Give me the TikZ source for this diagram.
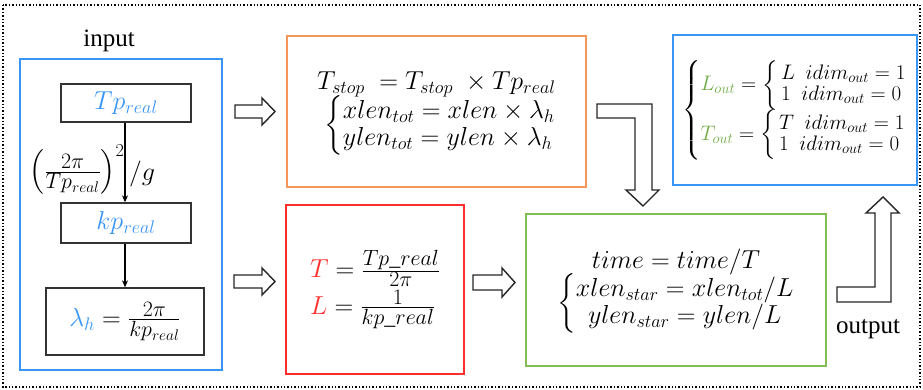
\RequirePackage{fix-cm}
\documentclass[tikz,border=0pt]{standalone}
\usepackage{amsmath}
\usepackage[no-math]{fontspec}
\setmainfont{Liberation Serif}
\usetikzlibrary{arrows.meta}
\definecolor{cblue}{RGB}{58,150,245}
\definecolor{corange}{RGB}{245,150,90}
\definecolor{cred}{RGB}{255,45,45}
\definecolor{cgreen}{RGB}{130,190,80}
\definecolor{tgreen}{RGB}{112,173,71}
\newcommand{\mfrac}[2]{\frac{\mbox{\fontsize{22}{22}\selectfont$#1$}}{\mbox{\fontsize{22}{22}\selectfont$#2$}}}
\tikzset{
  box/.style={draw, line width=1.5pt, inner sep=0pt, align=center},
  blk/.style={box, draw=black!80, line width=1.4pt},
  flow/.style={draw=black, line width=1.1pt, -{Stealth[length=7pt,width=6pt]}},
  hollow/.style={draw=black!85, line width=1.4pt, fill=white, line join=miter},
  mathbig/.style={font=\fontsize{26}{31}\selectfont},
  mathsmall/.style={font=\fontsize{21}{24}\selectfont},
  label/.style={font=\fontsize{25}{30}\selectfont, inner sep=0pt}
}
\begin{document}
\begin{tikzpicture}[x=1pt,y=-1pt]
\useasboundingbox (0,0) rectangle (923,390);
\draw[dotted, line width=1.4pt] (3,5) rectangle (920,387);

% input block
\node[label] (inlbl) at (109,41) {input};
\node[box, draw=cblue, minimum width=202pt, minimum height=311pt] (inbox) at (121,214.5) {};
\node[blk, mathbig, minimum width=130pt, minimum height=38pt] (tp) at (126,103) {$\color{cblue}Tp_{real}$};
\node[blk, mathbig, minimum width=130pt, minimum height=40pt] (kp) at (126,223) {$\color{cblue}kp_{real}$};
\node[blk, mathbig, minimum width=158pt, minimum height=67pt] (lam) at (125,321.5) {$\color{cblue}\lambda_h\color{black} = \mfrac{2\pi}{kp_{real}}$};
\draw[flow] (tp.south -| 125,0) -- (kp.north -| 125,0);
\draw[flow] (kp.south -| 125,0) -- (lam.north -| 125,0);
\node[mathbig, inner sep=0pt] (sq) at (77,170) {$\left(\mfrac{2\pi}{Tp_{real}}\right)^{2}$};
\node[mathbig, inner sep=0pt] (g) at (142,174) {$/g$};

% orange box
\node[box, draw=corange, mathbig, minimum width=299pt, minimum height=151pt] (ora) at (436.5,111.5)
 {$\begin{array}{@{}l@{}}
 T_{stop}\; = T_{stop}\;\times Tp_{real}\\[-3pt]
 \;\left\{\begin{array}{@{}l@{}} xlen_{tot} = xlen\times\lambda_h\\[-4pt] ylen_{tot} = ylen\times\lambda_h\end{array}\right.
 \end{array}$};

% red box
\node[box, draw=cred, mathbig, minimum width=178pt, minimum height=169pt] (red) at (375,289.5)
 {$\begin{array}{@{}l@{}}
 {\color{cred}T} = \mfrac{Tp\_real}{2\pi}\\[3pt]
 {\color{cred}L} = \mfrac{1}{kp\_real}
 \end{array}$};

% green box
\node[box, draw=cgreen, mathbig, minimum width=300pt, minimum height=152pt] (grn) at (676,290)
 {$\begin{array}{@{}c@{}}
 time = time/T\\[-4pt]
 \left\{\begin{array}{@{}c@{}} xlen_{star} = xlen_{tot}/L\\[-4pt] ylen_{star} = ylen/L\end{array}\right.
 \end{array}$};

% output box
\node[box, draw=cblue, mathsmall, minimum width=244pt, minimum height=150pt] (out) at (795,110)
 {$\left\{\begin{array}{@{}l@{}}
 {\color{tgreen}L_{out}} = \left\{\,\begin{array}{@{}l@{}} L\ \ idim_{out} = 1\\[-3pt] 1\ \ idim_{out} = 0\end{array}\right.\\[8pt]
 {\color{tgreen}T_{out}} = \left\{\,\begin{array}{@{}l@{}} T\ \ idim_{out} = 1\\[-3pt] 1\ \ idim_{out} = 0\end{array}\right.
 \end{array}\right.$};
\node[label] (outlbl) at (868,329) {output};

% hollow block arrows
\draw[hollow] (235,105) -- (262,105) -- (262,98) -- (275,111.5) -- (262,125) -- (262,118) -- (235,118) -- cycle;
\draw[hollow] (234,275) -- (262,275) -- (262,268) -- (275,281.5) -- (262,295) -- (262,288) -- (234,288) -- cycle;
\draw[hollow] (473,275) -- (502,275) -- (502,268) -- (515,282.5) -- (502,297) -- (502,290) -- (473,290) -- cycle;
\draw[hollow] (597,104) -- (652,104) -- (652,190) -- (659,190) -- (643,206) -- (626,190) -- (635,190) -- (635,118) -- (597,118) -- cycle;
\draw[hollow] (837,302) -- (891,302) -- (891,213) -- (899,213) -- (883,197) -- (866,213) -- (875,213) -- (875,287) -- (837,287) -- cycle;
\end{tikzpicture}
\end{document}
